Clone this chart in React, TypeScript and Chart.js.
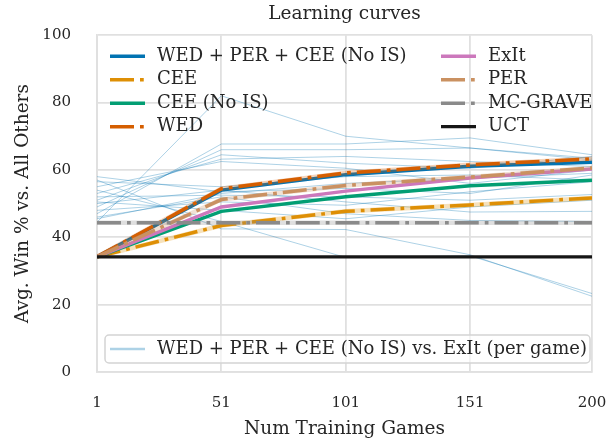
import React, { useEffect, useRef } from "react";
import { Chart, registerables } from "chart.js";

Chart.register(...registerables);

// ---------- data ----------
const gamesTrained = [1, 51, 101, 151, 200];
const xTicks = [1, 51, 101, 151, 200];
const yTicks = [0, 20, 40, 60, 80, 100];

const wedPerCeeNoIS = [34.2, 54.0, 58.6, 61.1, 62.3];
const cee = [34.2, 43.5, 47.7, 49.6, 51.7];
const ceeNoIS = [34.2, 47.7, 52.0, 55.3, 56.9];
const wed = [34.2, 54.4, 59.1, 61.5, 63.3];
const exIt = [34.2, 49.0, 53.7, 57.6, 60.3];
const per = [34.2, 51.2, 55.4, 57.9, 60.6];
const mcGrave = [44.3, 44.3, 44.3, 44.3, 44.3];
const uct = [34.2, 34.2, 34.2, 34.2, 34.2];

const seriesNames = [
  "WED + PER + CEE (No IS)",
  "CEE",
  "CEE (No IS)",
  "WED",
  "ExIt",
  "PER",
  "MC-GRAVE",
  "UCT",
];
const seriesValues = [wedPerCeeNoIS, cee, ceeNoIS, wed, exIt, per, mcGrave, uct];
const seriesColors = ["#0173b2", "#de8f05", "#029e73", "#d55e00", "#cc78bc", "#ca9161", "#8a8a8a", "#161616"];
const seriesDashed = [false, true, false, true, false, true, true, false];

const perGameLabel = "WED + PER + CEE (No IS) vs. ExIt (per game)";
const perGameRuns = [
  [44.5, 82.0, 70.0, 66.5, 63.0],
  [47.0, 67.7, 67.7, 69.5, 64.5],
  [49.0, 66.0, 66.0, 66.5, 63.5],
  [51.0, 64.5, 62.0, 60.5, 64.0],
  [53.0, 63.2, 64.0, 62.5, 61.0],
  [55.0, 62.5, 60.5, 56.0, 60.0],
  [58.0, 53.5, 54.5, 53.0, 58.5],
  [56.5, 55.0, 58.0, 58.5, 57.0],
  [52.0, 52.5, 52.0, 51.0, 52.7],
  [50.0, 54.0, 50.5, 47.5, 47.7],
  [48.0, 50.5, 49.5, 53.5, 56.5],
  [46.0, 52.0, 47.0, 45.0, 44.7],
  [54.0, 44.7, 34.0, 34.5, 23.3],
  [57.0, 42.5, 42.3, 34.8, 22.5],
  [45.5, 53.0, 56.0, 57.5, 59.0],
  [50.5, 48.0, 45.5, 49.0, 51.0],
];

// ---------- style ----------
const FONT = "'DejaVu Serif', serif";
const TEXT = "#262626";
const GRID = "#e0e0e0";
const DASH_DOT = [24, 6, 3.75, 6];
const PER_GAME_COLOR = "rgba(1,115,178,0.32)";

function hexToRgba(hex: string, a: number) {
  const n = parseInt(hex.slice(1), 16);
  return `rgba(${(n >> 16) & 255},${(n >> 8) & 255},${n & 255},${a})`;
}

const legendPlugin = {
  id: "twoLegends",
  afterDraw(chart: any) {
    const { ctx, chartArea: a } = chart;
    ctx.save();
    ctx.font = `18px ${FONT}`;
    ctx.textBaseline = "middle";
    ctx.textAlign = "left";
    // top legend (2 columns x 4 rows)
    chart.data.datasets.forEach((ds: any) => {
      if (ds.legendSlot === undefined) return;
      const col = ds.legendSlot < 4 ? 0 : 1;
      const row = ds.legendSlot % 4;
      const x0 = a.left + (col === 0 ? 13 : 344);
      const y = a.top + 21 + row * 23.5;
      ctx.strokeStyle = ds.borderColor;
      ctx.lineWidth = ds.borderWidth;
      ctx.setLineDash(ds.borderDash || []);
      ctx.lineCap = "butt";
      ctx.beginPath();
      ctx.moveTo(x0, y);
      ctx.lineTo(x0 + 35, y);
      ctx.stroke();
      ctx.setLineDash([]);
      ctx.fillStyle = TEXT;
      ctx.fillText(ds.label, x0 + 47, y);
    });
    // bottom legend
    const ds = chart.data.datasets.find((d: any) => d.bottomLegend);
    if (ds) {
      const bx = a.left + 8;
      const by = a.bottom - 37;
      const bw = a.right - 2 - bx;
      const bh = 28;
      ctx.beginPath();
      ctx.roundRect(bx, by, bw, bh, 4);
      ctx.fillStyle = "rgba(255,255,255,0.6)";
      ctx.fill();
      ctx.strokeStyle = "#d4d4d4";
      ctx.lineWidth = 1.5;
      ctx.stroke();
      const y = by + 14;
      ctx.strokeStyle = PER_GAME_COLOR;
      ctx.lineWidth = 2.5;
      ctx.beginPath();
      ctx.moveTo(a.left + 13, y);
      ctx.lineTo(a.left + 48, y);
      ctx.stroke();
      ctx.fillStyle = TEXT;
      ctx.fillText(ds.label, a.left + 60, y);
    }
    ctx.restore();
  },
};

export default function App() {
  const ref = useRef<HTMLCanvasElement | null>(null);

  useEffect(() => {
    if (!ref.current) return;
    const toPts = (vals: number[]) => gamesTrained.map((x, i) => ({ x, y: vals[i] }));

    const datasets: any[] = [];
    perGameRuns.forEach((run, i) => {
      datasets.push({
        label: perGameLabel,
        bottomLegend: i === 0,
        data: toPts(run),
        borderColor: PER_GAME_COLOR,
        borderWidth: 1,
        pointRadius: 0,
        tension: 0,
        order: 100,
      });
    });
    seriesNames.forEach((name, i) => {
      if (seriesDashed[i]) {
        datasets.push({
          label: name + " band",
          data: toPts(seriesValues[i]),
          borderColor: hexToRgba(seriesColors[i], 0.27),
          borderWidth: 4.5,
          pointRadius: 0,
          tension: 0,
          order: 40 - i * 2,
        });
      }
      datasets.push({
        label: name,
        legendSlot: i,
        data: toPts(seriesValues[i]),
        borderColor: seriesColors[i],
        borderWidth: i === 7 ? 3.2 : 3.5,
        borderDash: seriesDashed[i] ? DASH_DOT : [],
        pointRadius: 0,
        tension: 0,
        order: 39 - i * 2,
      });
    });

    const tickFont = { family: FONT, size: 15 };
    const titleFont = { family: FONT, size: 18.5, weight: "normal" as const };

    const chart = new Chart(ref.current, {
      type: "line",
      data: { datasets },
      plugins: [legendPlugin],
      options: {
        animation: false,
        responsive: false,
        maintainAspectRatio: false,
        devicePixelRatio: 1,
        layout: { padding: { left: 0, right: 24, top: 0, bottom: 0 } },
        plugins: {
          legend: { display: false },
          tooltip: { enabled: false },
          title: {
            display: true,
            text: "Learning curves",
            fullSize: false,
            color: TEXT,
            font: titleFont,
            padding: { top: 3, bottom: 10 },
          },
        },
        scales: {
          x: {
            type: "linear",
            min: 1,
            max: 200,
            afterBuildTicks: (s: any) => {
              s.ticks = xTicks.map((v) => ({ value: v }));
            },
            afterFit: (s: any) => {
              s.height = 71;
              s.paddingLeft = 0;
              s.paddingRight = 0;
            },
            grid: { color: GRID, lineWidth: 1.8, drawTicks: false },
            border: { color: GRID, width: 1.8 },
            ticks: { font: tickFont, color: TEXT, padding: 22, maxRotation: 0, autoSkip: false },
            title: {
              display: true,
              text: "Num Training Games",
              color: TEXT,
              font: titleFont,
              padding: { top: 0, bottom: 3 },
            },
          },
          y: {
            type: "linear",
            min: 0,
            max: 100,
            afterBuildTicks: (s: any) => {
              s.ticks = yTicks.map((v) => ({ value: v }));
            },
            afterFit: (s: any) => {
              s.width = 97;
            },
            grid: { color: GRID, lineWidth: 1.8, drawTicks: false },
            border: { color: GRID, width: 1.8 },
            ticks: { font: tickFont, color: TEXT, padding: 26 },
            title: {
              display: true,
              text: "Avg. Win % vs. All Others",
              color: TEXT,
              font: titleFont,
              padding: { top: 12, bottom: 0 },
            },
          },
        },
      },
    });
    return () => chart.destroy();
  }, []);

  return (
    <div style={{ position: "fixed", left: 0, top: 0, width: 616, height: 443, background: "#fff" }}>
      <canvas ref={ref} width={616} height={443} style={{ display: "block", width: 616, height: 443 }} />
    </div>
  );
}
